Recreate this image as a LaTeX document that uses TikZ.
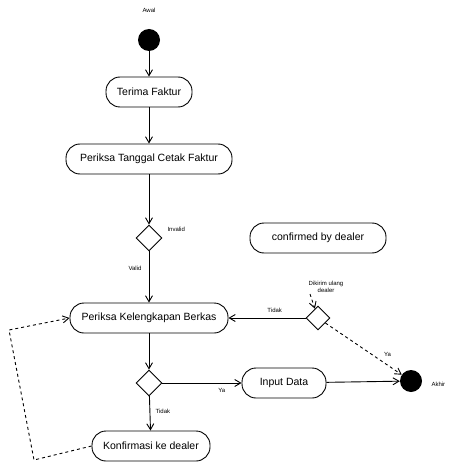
\documentclass[tikz,border=0pt]{standalone}
\usepackage{fontspec}
\setmainfont{Liberation Sans}
\usetikzlibrary{arrows.meta,shapes.geometric}
\begin{document}
\begin{tikzpicture}[x=1pt,y=-1pt,
  act/.style={draw,rounded corners=14pt,minimum height=30pt,inner xsep=4pt,font=\fontsize{10.5}{11}\selectfont,line width=0.9pt},
  dec/.style={draw,diamond,aspect=1,minimum size=26pt,inner sep=0pt,line width=0.9pt},
  endpt/.style={circle,fill=black,minimum size=22pt,inner sep=0pt},
  lbl/.style={font=\fontsize{6}{6.5}\selectfont},
  flow/.style={-{Straight Barb[length=6pt,width=7pt]},line width=0.9pt},
  dflow/.style={flow,dashed}]
\useasboundingbox (0,0) rectangle (460,473);
% start
\node[lbl] (awal) at (149,10) {Awal};
\node[endpt] (start) at (149,40) {};
% activities
\node[act,minimum width=86pt] (terima) at (149,92) {Terima Faktur};
\node[act,minimum width=166pt] (periksa) at (149,159) {Periksa Tanggal Cetak Faktur};
\node[dec] (d1) at (149,238) {};
\node[lbl,anchor=west] (invalid) at (164,229) {Invalid};
\node[lbl,anchor=east] (valid) at (145,268) {Valid};
\node[act,minimum width=136pt] (confirmed) at (318,238) {confirmed by dealer};
\node[act,minimum width=158pt] (lengkap) at (149,318) {Periksa Kelengkapan Berkas};
\node[dec,minimum size=24pt] (d2) at (318,318) {};
\node[lbl,align=center] (d2lbl) at (326,287) {Dikirim ulang\\dealer};
\coordinate (d2in) at (310,294);
\node[dec] (d3) at (149,383) {};
\node[act,minimum width=84pt] (input) at (284,383) {Input Data};
\node[endpt] (stop) at (411,381) {};
\node[lbl,anchor=west] (akhir) at (428,384) {Akhir};
\node[act,minimum width=118pt] (konf) at (151,446) {Konfirmasi ke dealer};
% connectors
\draw[flow] (start) -- (terima);
\draw[flow] (terima) -- (periksa);
\draw[flow] (periksa) -- (d1);
\draw[flow] (d1) -- (lengkap);
\draw[flow] (lengkap) -- (d3);
\draw[flow] (d3) -- node[lbl,pos=0.75,below=2pt] (ya1) {Ya} (input);
\draw[flow] (input) -- (stop);
\draw[flow] (d3) -- node[lbl,pos=0.45,right=2pt] (tidak1) {Tidak} (konf);
\draw[flow] (d2) -- node[lbl,pos=0.4,above=2pt] (tidak2) {Tidak} (lengkap);
\draw[dflow] (d2) -- node[lbl,pos=0.72,above right=0pt] (ya2) {Ya} (stop);
\draw[dflow] (d2in) -- (d2);
\coordinate (lb) at (34,460);
\coordinate (lt) at (9,330);
\draw[dflow] (konf.west) -- (lb) -- (lt) -- (lengkap.west);
\end{tikzpicture}
\end{document}
